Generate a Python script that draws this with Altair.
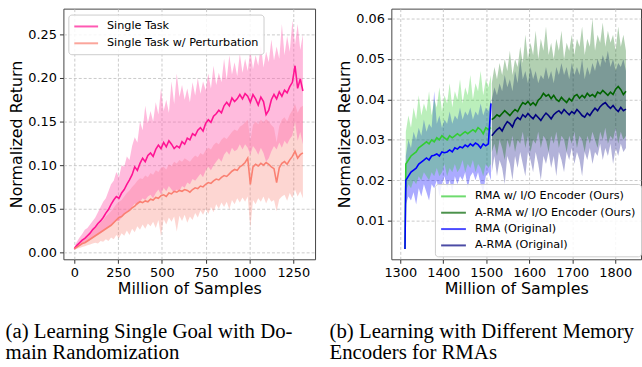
import altair as alt
import pandas as pd

# ---------------- data ----------------
X_LEFT = list(range(0, 1306, 15))
LEFT_NAMES = ["Single Task", "Single Task w/ Perturbation"]

SINGLE_MEAN = [0.004, 0.008, 0.011, 0.014, 0.016, 0.019, 0.022, 0.026, 0.029, 0.033,
               0.036, 0.040, 0.045, 0.049, 0.055, 0.060, 0.064, 0.062, 0.068, 0.072,
               0.078, 0.083, 0.089, 0.098, 0.094, 0.102, 0.108, 0.104, 0.111, 0.114,
               0.110, 0.118, 0.123, 0.119, 0.126, 0.121, 0.128, 0.124, 0.119, 0.122,
               0.120, 0.127, 0.124, 0.131, 0.129, 0.136, 0.134, 0.140, 0.143, 0.139,
               0.148, 0.152, 0.149, 0.156, 0.159, 0.163, 0.160, 0.168, 0.172, 0.168,
               0.177, 0.173, 0.176, 0.181, 0.176, 0.182, 0.179, 0.172, 0.181, 0.176,
               0.169, 0.178, 0.173, 0.158, 0.163, 0.175, 0.181, 0.176, 0.184, 0.179,
               0.186, 0.183, 0.190, 0.195, 0.214, 0.188, 0.199, 0.185]
SINGLE_HI = [0.006, 0.012, 0.017, 0.021, 0.026, 0.028, 0.032, 0.036, 0.040, 0.046,
             0.052, 0.058, 0.062, 0.070, 0.078, 0.082, 0.092, 0.086, 0.100, 0.098,
             0.110, 0.106, 0.122, 0.132, 0.126, 0.150, 0.140, 0.168, 0.148, 0.162,
             0.150, 0.172, 0.158, 0.188, 0.162, 0.175, 0.160, 0.196, 0.170, 0.205,
             0.178, 0.192, 0.175, 0.188, 0.172, 0.195, 0.180, 0.200, 0.182, 0.196,
             0.186, 0.205, 0.188, 0.214, 0.192, 0.206, 0.195, 0.222, 0.198, 0.226,
             0.204, 0.218, 0.202, 0.228, 0.206, 0.222, 0.208, 0.232, 0.210, 0.226,
             0.214, 0.238, 0.212, 0.230, 0.218, 0.244, 0.220, 0.236, 0.222, 0.262,
             0.226, 0.248, 0.230, 0.266, 0.238, 0.262, 0.232, 0.250]
SINGLE_LO = [0.003, 0.005, 0.007, 0.009, 0.011, 0.012, 0.014, 0.016, 0.018, 0.020,
             0.022, 0.024, 0.027, 0.029, 0.032, 0.034, 0.036, 0.036, 0.040, 0.043,
             0.046, 0.048, 0.052, 0.056, 0.054, 0.058, 0.062, 0.060, 0.064, 0.066,
             0.062, 0.068, 0.072, 0.066, 0.074, 0.070, 0.076, 0.072, 0.068, 0.072,
             0.070, 0.076, 0.074, 0.080, 0.078, 0.084, 0.082, 0.086, 0.090, 0.086,
             0.094, 0.098, 0.094, 0.100, 0.104, 0.108, 0.104, 0.112, 0.116, 0.112,
             0.120, 0.116, 0.118, 0.124, 0.118, 0.124, 0.120, 0.112, 0.122, 0.118,
             0.112, 0.120, 0.114, 0.104, 0.108, 0.116, 0.122, 0.118, 0.126, 0.120,
             0.128, 0.124, 0.130, 0.134, 0.150, 0.128, 0.138, 0.124]
PERT_MEAN = [0.004, 0.006, 0.008, 0.010, 0.011, 0.013, 0.015, 0.017, 0.019, 0.021,
             0.023, 0.025, 0.027, 0.029, 0.031, 0.034, 0.037, 0.040, 0.041, 0.044,
             0.046, 0.048, 0.051, 0.053, 0.056, 0.058, 0.057, 0.059, 0.058, 0.061,
             0.060, 0.063, 0.062, 0.065, 0.066, 0.064, 0.068, 0.067, 0.070, 0.069,
             0.071, 0.070, 0.072, 0.071, 0.069, 0.072, 0.074, 0.073, 0.076, 0.075,
             0.078, 0.080, 0.079, 0.082, 0.084, 0.083, 0.086, 0.088, 0.087, 0.090,
             0.093, 0.095, 0.094, 0.098, 0.100, 0.103, 0.108, 0.078, 0.098, 0.101,
             0.099, 0.102, 0.100, 0.103, 0.101, 0.098, 0.096, 0.080, 0.097, 0.102,
             0.104, 0.101, 0.106, 0.110, 0.116, 0.108, 0.112, 0.114]
PERT_HI = [0.005, 0.008, 0.011, 0.014, 0.016, 0.019, 0.022, 0.025, 0.028, 0.031,
           0.034, 0.037, 0.041, 0.044, 0.047, 0.051, 0.055, 0.058, 0.060, 0.064,
           0.068, 0.071, 0.075, 0.078, 0.082, 0.085, 0.084, 0.088, 0.086, 0.091,
           0.089, 0.094, 0.092, 0.097, 0.098, 0.095, 0.101, 0.099, 0.104, 0.102,
           0.106, 0.104, 0.108, 0.106, 0.104, 0.108, 0.111, 0.109, 0.114, 0.112,
           0.117, 0.120, 0.118, 0.123, 0.126, 0.124, 0.129, 0.132, 0.130, 0.134,
           0.138, 0.141, 0.139, 0.144, 0.146, 0.149, 0.152, 0.128, 0.146, 0.150,
           0.147, 0.152, 0.149, 0.153, 0.150, 0.146, 0.143, 0.126, 0.145, 0.152,
           0.155, 0.150, 0.158, 0.163, 0.170, 0.160, 0.166, 0.168]
PERT_LO = [0.003, 0.004, 0.005, 0.006, 0.007, 0.008, 0.009, 0.010, 0.011, 0.010,
           0.013, 0.012, 0.015, 0.013, 0.017, 0.015, 0.020, 0.016, 0.022, 0.019,
           0.025, 0.020, 0.027, 0.023, 0.030, 0.026, 0.032, 0.027, 0.033, 0.030,
           0.035, 0.028, 0.037, 0.018, 0.038, 0.032, 0.040, 0.035, 0.041, 0.024,
           0.042, 0.036, 0.043, 0.034, 0.041, 0.037, 0.045, 0.040, 0.048, 0.043,
           0.050, 0.044, 0.052, 0.046, 0.055, 0.050, 0.057, 0.052, 0.058, 0.049,
           0.060, 0.055, 0.062, 0.057, 0.063, 0.058, 0.064, 0.028, 0.060, 0.055,
           0.062, 0.058, 0.064, 0.056, 0.063, 0.058, 0.060, 0.047, 0.061, 0.064,
           0.066, 0.059, 0.068, 0.062, 0.072, 0.064, 0.070, 0.062]

X_R1 = [1311] + list(range(1313, 1512, 6))
X_R2 = list(range(1513, 1826, 6))
RIGHT_NAMES = ["RMA w/ I/O Encoder (Ours)", "A-RMA w/ I/O Encoder (Ours)",
               "RMA (Original)", "A-RMA (Original)"]

RMA_IO_MEAN = [0.003, 0.024, 0.025, 0.026, 0.0265, 0.027, 0.028, 0.0285, 0.029, 0.0295,
               0.029, 0.030, 0.0295, 0.0305, 0.030, 0.031, 0.0305, 0.030, 0.031, 0.0305,
               0.031, 0.0315, 0.031, 0.0315, 0.032, 0.0315, 0.032, 0.0325, 0.032, 0.033,
               0.0325, 0.0315, 0.033, 0.0325, 0.033]
RMA_IO_HI = [0.004, 0.032, 0.036, 0.033, 0.038, 0.035, 0.041, 0.036, 0.039, 0.037,
             0.042, 0.036, 0.040, 0.038, 0.043, 0.037, 0.041, 0.039, 0.044, 0.038,
             0.042, 0.040, 0.045, 0.039, 0.043, 0.041, 0.046, 0.040, 0.044, 0.042,
             0.047, 0.041, 0.045, 0.043, 0.046]
RMA_IO_LO = [0.002, 0.017, 0.019, 0.018, 0.020, 0.019, 0.021, 0.020, 0.022, 0.021,
             0.020, 0.022, 0.021, 0.023, 0.021, 0.022, 0.024, 0.021, 0.023, 0.022,
             0.024, 0.022, 0.023, 0.025, 0.022, 0.024, 0.023, 0.025, 0.022, 0.024,
             0.023, 0.021, 0.024, 0.023, 0.024]
RMA_OR_MEAN = [0.003, 0.020, 0.021, 0.022, 0.0225, 0.023, 0.024, 0.0245, 0.025, 0.0255,
               0.025, 0.026, 0.0262, 0.0265, 0.026, 0.027, 0.0268, 0.027, 0.0275, 0.027,
               0.028, 0.0277, 0.0283, 0.028, 0.0287, 0.0283, 0.029, 0.0285, 0.0292, 0.0288,
               0.028, 0.029, 0.0285, 0.029, 0.039]
RMA_OR_HI = [0.004, 0.026, 0.030, 0.028, 0.032, 0.030, 0.033, 0.031, 0.035, 0.032,
             0.034, 0.033, 0.042, 0.034, 0.036, 0.033, 0.035, 0.034, 0.037, 0.034,
             0.036, 0.035, 0.038, 0.035, 0.037, 0.036, 0.038, 0.035, 0.037, 0.036,
             0.039, 0.036, 0.038, 0.037, 0.040]
RMA_OR_LO = [0.002, 0.014, 0.016, 0.015, 0.017, 0.014, 0.018, 0.016, 0.019, 0.017,
             0.015, 0.019, 0.018, 0.020, 0.016, 0.019, 0.021, 0.018, 0.020, 0.017,
             0.021, 0.019, 0.021, 0.020, 0.022, 0.018, 0.021, 0.022, 0.020, 0.022,
             0.019, 0.017, 0.021, 0.022, 0.020]

ARMA_IO_MEAN = [0.035, 0.0355, 0.0362, 0.0358, 0.0365, 0.0372, 0.0366, 0.0360, 0.0368, 0.0375,
                0.0370, 0.0382, 0.0392, 0.0388, 0.0395, 0.0386, 0.0392, 0.0385, 0.0398, 0.0404,
                0.0415, 0.0408, 0.0412, 0.0402, 0.0410, 0.0400, 0.0395, 0.0405, 0.0398, 0.0392,
                0.0402, 0.0396, 0.0408, 0.0412, 0.0403, 0.0410, 0.0404, 0.0415, 0.0408, 0.0412,
                0.0406, 0.0418, 0.0414, 0.0422, 0.0416, 0.0410, 0.0418, 0.0412, 0.0425, 0.0432,
                0.0424, 0.0412, 0.0420]
ARMA_IO_HI = [0.044, 0.048, 0.045, 0.049, 0.046, 0.050, 0.047, 0.052, 0.046, 0.050,
              0.048, 0.053, 0.049, 0.056, 0.050, 0.054, 0.051, 0.057, 0.050, 0.055,
              0.052, 0.058, 0.051, 0.054, 0.050, 0.055, 0.052, 0.057, 0.050, 0.054,
              0.052, 0.056, 0.051, 0.055, 0.053, 0.058, 0.051, 0.055, 0.053, 0.060,
              0.052, 0.056, 0.054, 0.059, 0.053, 0.057, 0.054, 0.056, 0.052, 0.058,
              0.053, 0.056, 0.052]
ARMA_IO_LO = [0.027, 0.029, 0.026, 0.030, 0.028, 0.025, 0.030, 0.028, 0.031, 0.027,
              0.030, 0.029, 0.032, 0.028, 0.031, 0.027, 0.030, 0.029, 0.032, 0.028,
              0.031, 0.030, 0.027, 0.031, 0.029, 0.032, 0.028, 0.031, 0.030, 0.027,
              0.031, 0.029, 0.032, 0.028, 0.031, 0.030, 0.027, 0.031, 0.029, 0.032,
              0.030, 0.028, 0.032, 0.030, 0.033, 0.029, 0.031, 0.030, 0.033, 0.029,
              0.032, 0.030, 0.031]
ARMA_OR_MEAN = [0.031, 0.0318, 0.0325, 0.0330, 0.0322, 0.0335, 0.0345, 0.0340, 0.0332, 0.0348,
                0.0355, 0.0350, 0.0362, 0.0356, 0.0365, 0.0358, 0.0352, 0.0362, 0.0355, 0.0348,
                0.0358, 0.0366, 0.0360, 0.0352, 0.0362, 0.0368, 0.0372, 0.0365, 0.0375, 0.0368,
                0.0362, 0.0370, 0.0365, 0.0375, 0.0368, 0.0360, 0.0356, 0.0366, 0.0360, 0.0370,
                0.0378, 0.0372, 0.0382, 0.0388, 0.0392, 0.0384, 0.0378, 0.0385, 0.0376, 0.0370,
                0.0380, 0.0372, 0.0376]
ARMA_OR_HI = [0.040, 0.043, 0.041, 0.044, 0.042, 0.046, 0.043, 0.045, 0.042, 0.047,
              0.044, 0.050, 0.045, 0.047, 0.044, 0.048, 0.045, 0.047, 0.044, 0.046,
              0.045, 0.048, 0.045, 0.047, 0.044, 0.048, 0.046, 0.049, 0.046, 0.048,
              0.045, 0.049, 0.046, 0.048, 0.046, 0.050, 0.045, 0.048, 0.046, 0.049,
              0.047, 0.050, 0.048, 0.051, 0.049, 0.052, 0.048, 0.050, 0.047, 0.049,
              0.048, 0.050, 0.047]
ARMA_OR_LO = [0.022, 0.026, 0.021, 0.025, 0.023, 0.019, 0.026, 0.024, 0.020, 0.026,
              0.023, 0.027, 0.024, 0.021, 0.027, 0.025, 0.022, 0.027, 0.024, 0.020,
              0.026, 0.024, 0.027, 0.023, 0.026, 0.021, 0.027, 0.025, 0.022, 0.027,
              0.025, 0.028, 0.024, 0.027, 0.025, 0.021, 0.027, 0.025, 0.028, 0.024,
              0.027, 0.026, 0.029, 0.025, 0.028, 0.026, 0.029, 0.024, 0.028, 0.026,
              0.029, 0.027, 0.028]

CAPTION_A = ["(a) Learning Single Goal with Do-", "main Randomization"]
CAPTION_B = ["(b) Learning with Different Memory", "Encoders for RMAs"]
X_TICKS_A = [0, 250, 500, 750, 1000, 1250]
Y_TICKS_A = [0.0, 0.05, 0.10, 0.15, 0.20, 0.25]
X_TICKS_B = [1300, 1400, 1500, 1600, 1700, 1800]
Y_TICKS_B = [0.01, 0.02, 0.03, 0.04, 0.05, 0.06]

# ---------------- helpers ----------------
FONT = "DejaVu Sans"
LEGEND_LINE = "M-1,0H3"   # horizontal stroke, 4x as long as the reserved symbol box is half-wide


def table(x, y, lo, hi, name):
    return pd.DataFrame({"x": x, "y": y, "lo": lo, "hi": hi, "s": name})


def x_enc(dom, ticks):
    return alt.X("x:Q", scale=alt.Scale(domain=dom, nice=False, zero=False),
                 axis=alt.Axis(values=ticks, title="Million of Samples", format="d"))


def y_enc(field, dom, ticks):
    return alt.Y(field, scale=alt.Scale(domain=dom, nice=False, zero=False),
                 axis=alt.Axis(values=ticks, title="Normalized Return", format=".2f"))


def band(df, name, color, opacity, xdom, xt, ydom, yt):
    return alt.Chart(df).transform_filter(alt.datum.s == name).mark_area(
        color=color, opacity=opacity, clip=True, interpolate="linear"
    ).encode(x=x_enc(xdom, xt), y=y_enc("lo:Q", ydom, yt), y2="hi:Q")


def legend(x, y, half, row_pad):
    return alt.Legend(title=None, orient="none", legendX=x, legendY=y,
                      symbolType=LEGEND_LINE, symbolSize=half * half, symbolStrokeWidth=2,
                      symbolOpacity=0.7, labelFont=FONT, labelFontSize=11.3,
                      labelColor="#000", labelOffset=8 + half, labelLimit=400,
                      padding=5, rowPadding=row_pad, fillColor="rgba(255,255,255,0.85)",
                      strokeColor="#cccccc", cornerRadius=3)


def caption(lines, dx):
    return alt.TitleParams(text=lines, orient="bottom", anchor="start", font="Liberation Serif",
                           fontSize=21, fontWeight="normal", lineHeight=22, color="#000",
                           offset=24, dx=dx)


# ---------------- left panel ----------------
LX = [-62.2, 1374.4]
LY = [-0.008, 0.2795]
left_df = pd.concat([
    table(X_LEFT, SINGLE_MEAN, SINGLE_LO, SINGLE_HI, LEFT_NAMES[0]),
    table(X_LEFT, PERT_MEAN, PERT_LO, PERT_HI, LEFT_NAMES[1]),
], ignore_index=True)

left_lines = alt.Chart(left_df).mark_line(strokeWidth=1.6, clip=True).encode(
    x=x_enc(LX, X_TICKS_A), y=y_enc("y:Q", LY, Y_TICKS_A),
    color=alt.Color("s:N", scale=alt.Scale(domain=LEFT_NAMES, range=["#ff1493", "#fa8072"]),
                    legend=legend(5, 6, 12, 4)),
)
left = alt.layer(
    band(left_df, LEFT_NAMES[1], "#fa8072", 0.32, LX, X_TICKS_A, LY, Y_TICKS_A),
    band(left_df, LEFT_NAMES[0], "#ff69b4", 0.45, LX, X_TICKS_A, LY, Y_TICKS_A),
    left_lines,
).properties(width=254, height=253, title=caption(CAPTION_A, -3))

# ---------------- right panel ----------------
RX = [1279.3, 1860.0]
RY = [0.00044, 0.06245]
right_df = pd.concat([
    table(X_R1, RMA_IO_MEAN, RMA_IO_LO, RMA_IO_HI, RIGHT_NAMES[0]),
    table(X_R2, ARMA_IO_MEAN, ARMA_IO_LO, ARMA_IO_HI, RIGHT_NAMES[1]),
    table(X_R1, RMA_OR_MEAN, RMA_OR_LO, RMA_OR_HI, RIGHT_NAMES[2]),
    table(X_R2, ARMA_OR_MEAN, ARMA_OR_LO, ARMA_OR_HI, RIGHT_NAMES[3]),
], ignore_index=True)

right_lines = alt.Chart(right_df).mark_line(strokeWidth=1.6, clip=True).encode(
    x=x_enc(RX, X_TICKS_B), y=y_enc("y:Q", RY, Y_TICKS_B),
    color=alt.Color("s:N", scale=alt.Scale(domain=RIGHT_NAMES,
                                           range=["#32cd32", "#006400", "#0000ff", "#000080"]),
                    legend=legend(44, 177, 12.5, 3.5)),
)
right = alt.layer(
    band(right_df, RIGHT_NAMES[2], "#0000ff", 0.33, RX, X_TICKS_B, RY, Y_TICKS_B),
    band(right_df, RIGHT_NAMES[0], "#32cd32", 0.33, RX, X_TICKS_B, RY, Y_TICKS_B),
    band(right_df, RIGHT_NAMES[3], "#000080", 0.30, RX, X_TICKS_B, RY, Y_TICKS_B),
    band(right_df, RIGHT_NAMES[1], "#006400", 0.30, RX, X_TICKS_B, RY, Y_TICKS_B),
    right_lines,
).properties(width=252, height=253, title=caption(CAPTION_B, -7))

chart = alt.hconcat(left, right, spacing=13).resolve_scale(color="independent").properties(
    padding={"left": 5, "top": 6, "right": 0, "bottom": 0}, background="white"
).configure_view(stroke="#444444", strokeWidth=1).configure_axis(
    labelFont=FONT, titleFont=FONT, labelFontSize=13, titleFontSize=16,
    labelColor="#000", titleColor="#000", titleFontWeight="normal",
    domain=False, tickColor="#333333", tickSize=4, tickWidth=1,
    grid=True, gridColor="#bdbdbd", gridDash=[3, 2], gridWidth=0.8,
    labelPadding=3, titlePadding=3,
).configure_axisX(titlePadding=2).configure_axisY(titlePadding=3.5)

chart.save("out.html", embed_options={"renderer": "svg", "actions": False})
